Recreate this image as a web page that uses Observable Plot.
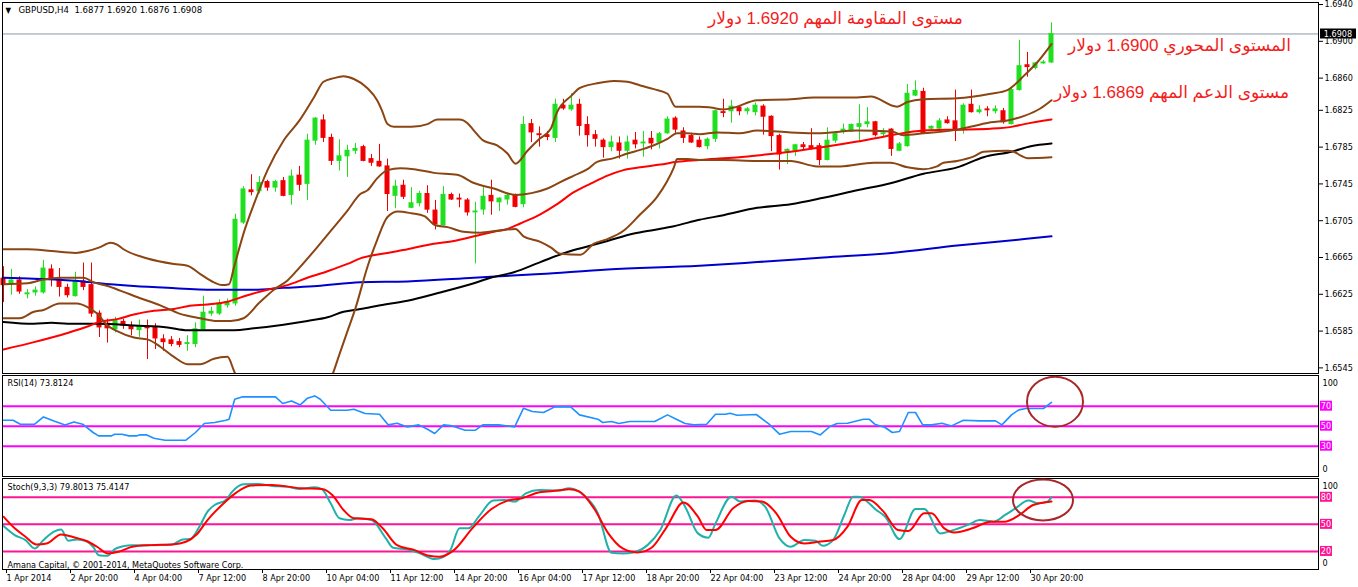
<!DOCTYPE html>
<html><head><meta charset="utf-8">
<script src="https://cdn.jsdelivr.net/npm/d3@7"></script>
<script src="https://cdn.jsdelivr.net/npm/@observablehq/plot@0.6"></script>
<style>
html,body{margin:0;padding:0;background:#fff;}
#wrap{position:relative;width:1358px;height:587px;overflow:hidden;background:#fff;}
</style></head><body><div id="wrap"></div>
<script>
// ---------- DATA ----------
const symbol = "GBPUSD,H4";
const lastOHLC = [1.6877, 1.6920, 1.6876, 1.6908];
const open = [1.6642,1.6636,1.6640,1.6625,1.6627,1.6627,1.6652,1.6641,1.6632,1.6623,1.6639,1.6635,1.6604,1.6593,1.6587,1.6595,1.6590,1.6586,1.6590,1.6589,1.6576,1.6575,1.6573,1.6571,1.6571,1.6587,1.6604,1.6604,1.6613,1.6615,1.6703,1.6738,1.6737,1.6747,1.6741,1.6748,1.6733,1.6754,1.6745,1.6792,1.6814,1.6795,1.6770,1.6775,1.6781,1.6785,1.6772,1.6769,1.6764,1.6732,1.6743,1.6719,1.6724,1.6734,1.6716,1.6700,1.6733,1.6729,1.6727,1.6714,1.6717,1.6732,1.6725,1.6728,1.6732,1.6723,1.6810,1.6799,1.6798,1.6795,1.6830,1.6826,1.6831,1.6809,1.6798,1.6792,1.6785,1.6789,1.6781,1.6792,1.6789,1.6794,1.6790,1.6800,1.6816,1.6802,1.6797,1.6792,1.6786,1.6794,1.6823,1.6824,1.6828,1.6824,1.6823,1.6829,1.6818,1.6797,1.6780,1.6781,1.6787,1.6786,1.6786,1.6771,1.6792,1.6802,1.6802,1.6807,1.6810,1.6812,1.6799,1.6804,1.6781,1.6786,1.6841,1.6845,1.6805,1.6805,1.6814,1.6813,1.6805,1.6831,1.6823,1.6826,1.6824,1.6824,1.6810,1.6847,1.6874,1.6871,1.6876,1.6877];
const high = [1.6655,1.6652,1.6644,1.6630,1.6633,1.6662,1.6657,1.6653,1.6636,1.6649,1.6659,1.6659,1.6607,1.6598,1.6600,1.6598,1.6595,1.6597,1.6597,1.6593,1.6581,1.6579,1.6577,1.6580,1.6594,1.6623,1.6611,1.6619,1.6620,1.6712,1.6742,1.6755,1.6753,1.6749,1.6749,1.6752,1.6760,1.6764,1.6799,1.6817,1.6820,1.6799,1.6793,1.6787,1.6789,1.6787,1.6777,1.6788,1.6772,1.6749,1.6749,1.6741,1.6737,1.6743,1.6727,1.6742,1.6735,1.6734,1.6729,1.6725,1.6741,1.6749,1.6730,1.6735,1.6734,1.6818,1.6815,1.6807,1.6802,1.6837,1.6837,1.6843,1.6837,1.6818,1.6803,1.6794,1.6797,1.6796,1.6797,1.6801,1.6802,1.6802,1.6801,1.6818,1.6818,1.6806,1.6800,1.6796,1.6795,1.6825,1.6837,1.6836,1.6830,1.6828,1.6833,1.6831,1.6819,1.6799,1.6783,1.6788,1.6790,1.6805,1.6789,1.6806,1.6802,1.6810,1.6810,1.6831,1.6828,1.6813,1.6805,1.6805,1.6790,1.6853,1.6857,1.6849,1.6808,1.6816,1.6818,1.6847,1.6832,1.6847,1.6830,1.6829,1.6830,1.6827,1.6849,1.6901,1.6888,1.6877,1.6879,1.6920];
const low = [1.6616,1.6624,1.6625,1.6620,1.6623,1.6625,1.6633,1.6622,1.6621,1.6622,1.6629,1.6600,1.6578,1.6572,1.6583,1.6587,1.6580,1.6578,1.6554,1.6565,1.6563,1.6568,1.6567,1.6563,1.6567,1.6586,1.6601,1.6602,1.6610,1.6612,1.6701,1.6732,1.6734,1.6737,1.6736,1.6731,1.6722,1.6737,1.6727,1.6787,1.6790,1.6765,1.6759,1.6752,1.6777,1.6769,1.6764,1.6763,1.6715,1.6718,1.6728,1.6718,1.6720,1.6713,1.6695,1.6699,1.6727,1.6719,1.6710,1.6658,1.6711,1.6711,1.6715,1.6722,1.6719,1.6719,1.6790,1.6785,1.6792,1.6790,1.6825,1.6824,1.6797,1.6785,1.6785,1.6773,1.6780,1.6772,1.6772,1.6783,1.6774,1.6782,1.6783,1.6799,1.6800,1.6789,1.6789,1.6784,1.6782,1.6790,1.6817,1.6811,1.6819,1.6820,1.6819,1.6798,1.6780,1.6760,1.6766,1.6775,1.6782,1.6782,1.6765,1.6770,1.6789,1.6799,1.6801,1.6791,1.6806,1.6796,1.6796,1.6775,1.6780,1.6785,1.6840,1.6799,1.6802,1.6803,1.6810,1.6791,1.6799,1.6822,1.6821,1.6818,1.6821,1.6810,1.6809,1.6846,1.6861,1.6869,1.6875,1.6876];
const close = [1.6635,1.6640,1.6628,1.6626,1.6629,1.6653,1.6642,1.6633,1.6624,1.6639,1.6633,1.6604,1.6589,1.6588,1.6596,1.6591,1.6587,1.6590,1.6588,1.6577,1.6573,1.6571,1.6570,1.6572,1.6587,1.6605,1.6606,1.6615,1.6616,1.6706,1.6739,1.6736,1.6746,1.6741,1.6747,1.6732,1.6753,1.6744,1.6792,1.6816,1.6795,1.6770,1.6775,1.6781,1.6783,1.6770,1.6768,1.6764,1.6734,1.6742,1.6731,1.6724,1.6734,1.6717,1.6701,1.6733,1.6728,1.6728,1.6714,1.6715,1.6731,1.6726,1.6729,1.6732,1.6720,1.6809,1.6801,1.6798,1.6796,1.6831,1.6827,1.6830,1.6808,1.6798,1.6794,1.6785,1.6790,1.6781,1.6790,1.6788,1.6790,1.6789,1.6799,1.6815,1.6804,1.6795,1.6790,1.6785,1.6793,1.6824,1.6822,1.6829,1.6824,1.6826,1.6830,1.6818,1.6797,1.6777,1.6782,1.6787,1.6785,1.6784,1.6771,1.6792,1.6799,1.6804,1.6809,1.6810,1.6812,1.6798,1.6800,1.6783,1.6788,1.6843,1.6846,1.6800,1.6807,1.6813,1.6811,1.6803,1.6830,1.6823,1.6825,1.6825,1.6826,1.6812,1.6847,1.6873,1.6872,1.6876,1.6877,1.6908];

const priceTicks = [1.6940,1.6900,1.6860,1.6825,1.6785,1.6745,1.6705,1.6665,1.6625,1.6585,1.6545];
const timeLabels = ["1 Apr 2014","2 Apr 20:00","4 Apr 04:00","7 Apr 12:00","8 Apr 20:00","10 Apr 04:00","11 Apr 12:00","14 Apr 20:00","16 Apr 04:00","17 Apr 12:00","18 Apr 20:00","22 Apr 04:00","23 Apr 12:00","24 Apr 20:00","28 Apr 04:00","29 Apr 12:00","30 Apr 20:00"];

// indicator lines: [bar index, value]
const bbUpper = [[0,1.6674],[3,1.6674],[6,1.6672],[9,1.6670],[10.5,1.6672],[12,1.6676],[13.4,1.6681],[14.2,1.6679],[15,1.6674],[18,1.6664],[21.3,1.6658],[23,1.6656],[24.6,1.6647],[26.3,1.6638],[27.3,1.6635],[28.2,1.6636],[28.8,1.6654],[30,1.6691],[31.3,1.6723],[33,1.6760],[35,1.6792],[37,1.6814],[38.8,1.6839],[40,1.6856],[41.3,1.6860],[42.5,1.6862],[43.8,1.6859],[45.5,1.6849],[46.7,1.6836],[47.3,1.6825],[48,1.6810],[48.8,1.6807],[51,1.6807],[53,1.6810],[54.2,1.6815],[57,1.6815],[58,1.6811],[58.8,1.6803],[60,1.6792],[61.7,1.6787],[63,1.6778],[64,1.6767],[65.5,1.6781],[67,1.6794],[68.4,1.6805],[69.2,1.6823],[71,1.6841],[72,1.6849],[74,1.6854],[76.3,1.6857],[78,1.6856],[79.6,1.6852],[81.3,1.6848],[83,1.6843],[84,1.6829],[87,1.6829],[88.4,1.6828],[90,1.6826],[91.3,1.6828],[94.2,1.6836],[98.4,1.6837],[101.3,1.6839],[106.7,1.6839],[108.4,1.6840],[111.7,1.6829],[113,1.6834],[115,1.6837],[119.2,1.6838],[123.4,1.6843],[125.5,1.6847],[126.3,1.6852],[127.6,1.6863],[129.2,1.6877],[131,1.6897]];
const bbMiddle = [[0,1.6636],[3,1.6637],[5,1.6641],[7,1.6643],[10,1.6643],[11.3,1.6638],[13,1.6634],[14.6,1.6629],[17,1.6621],[19.6,1.6613],[22,1.6604],[24.6,1.6599],[26.7,1.6596],[28.4,1.6596],[30,1.6599],[32,1.6616],[33.8,1.6630],[35.5,1.6640],[37,1.6654],[39.2,1.6676],[41.3,1.6698],[43,1.6716],[44.6,1.6734],[45.5,1.6738],[46.7,1.6751],[48,1.6760],[49.6,1.6762],[51.3,1.6761],[53.8,1.6757],[56.7,1.6755],[58.8,1.6746],[61.3,1.6740],[64,1.6733],[66,1.6735],[68,1.6740],[69.6,1.6747],[71.3,1.6754],[73,1.6761],[74.2,1.6769],[76.3,1.6773],[78,1.6778],[79.6,1.6782],[81.3,1.6787],[83,1.6794],[84.2,1.6800],[85.5,1.6800],[87,1.6799],[89.2,1.6801],[92,1.6800],[94.2,1.6803],[98.4,1.6801],[101.7,1.6800],[106.7,1.6803],[111,1.6802],[112.5,1.6798],[115,1.6800],[119.2,1.6804],[121.3,1.6808],[123.4,1.6812],[125.5,1.6814],[127.6,1.6819],[129.6,1.6827],[131,1.6836]];
const bbLower = [[0,1.6599],[2,1.6599],[3.8,1.6606],[5,1.6608],[7,1.6615],[9.2,1.6615],[10.5,1.6611],[11.7,1.6604],[13,1.6591],[14.2,1.6585],[16.3,1.6578],[18,1.6576],[19.6,1.6568],[21.3,1.6557],[23,1.6549],[24.6,1.6549],[26.3,1.6555],[28,1.6557],[28.8,1.6542],[30,1.6517],[32,1.6502],[34,1.6491],[36,1.6488],[38,1.6499],[40,1.6519],[41,1.6535],[42,1.6560],[43,1.6585],[44,1.6610],[45.5,1.6655],[46.7,1.6684],[48,1.6709],[49.3,1.6715],[51,1.6713],[52.6,1.6710],[54,1.6700],[55.5,1.6698],[57.5,1.6693],[59.6,1.6692],[61.7,1.6694],[64,1.6696],[65,1.6688],[67.1,1.6682],[68.4,1.6676],[69.6,1.6669],[72.1,1.6668],[73.8,1.6680],[75.5,1.6685],[77.5,1.6694],[79.6,1.6712],[81.7,1.6731],[82.9,1.6747],[83.8,1.6763],[84.2,1.6772],[85.5,1.6772],[87,1.6771],[90,1.6771],[94.2,1.6770],[98.4,1.6770],[101.7,1.6764],[104.6,1.6764],[108.8,1.6768],[110.9,1.6768],[113,1.6763],[115,1.6761],[116.7,1.6764],[117.5,1.6768],[119.2,1.6770],[121.3,1.6775],[122.5,1.6780],[125.5,1.6781],[126.3,1.6780],[127.1,1.6776],[128,1.6773],[131,1.6774]];
const maRed = [[0,1.6565],[3.8,1.6573],[8,1.6583],[10.5,1.6590],[12,1.6595],[14.2,1.6598],[16.3,1.6603],[18.8,1.6607],[21.3,1.6609],[23,1.6612],[25.5,1.6614],[28,1.6617],[30.5,1.6624],[33,1.6630],[35.5,1.6635],[38,1.6643],[40.5,1.6650],[43,1.6658],[44.6,1.6664],[48,1.6670],[50.5,1.6674],[53.8,1.6680],[56.3,1.6683],[58.8,1.6688],[61.3,1.6693],[63,1.6696],[64.6,1.6702],[67.1,1.6712],[69.2,1.6723],[71.3,1.6736],[73.8,1.6747],[75.5,1.6754],[77.5,1.6760],[79.6,1.6763],[82.1,1.6766],[84.2,1.6769],[87,1.6771],[88.4,1.6772],[92,1.6774],[94.2,1.6776],[98.4,1.6780],[102.5,1.6785],[106.7,1.6791],[111,1.6798],[115,1.6803],[119.2,1.6804],[123.4,1.6805],[126,1.6807],[127.6,1.6810],[131,1.6815]];
const maBlack = [[0,1.6595],[3.8,1.6593],[6,1.6594],[8,1.6593],[12,1.6593],[16.3,1.6591],[20.5,1.6589],[23,1.6586],[28.8,1.6586],[31.3,1.6588],[35,1.6592],[38,1.6596],[40.5,1.6600],[42.5,1.6606],[44.6,1.6609],[47.1,1.6613],[50.5,1.6618],[54.6,1.6627],[58.8,1.6637],[60.9,1.6643],[63.8,1.6649],[67.1,1.6660],[70.5,1.6671],[73,1.6677],[75.5,1.6683],[78.8,1.6691],[81.3,1.6695],[83.8,1.6699],[87,1.6706],[90,1.6711],[94.2,1.6719],[98.4,1.6723],[102.5,1.6730],[106.7,1.6738],[111,1.6746],[115,1.6756],[119.2,1.6763],[122.5,1.6774],[126,1.6780],[128.4,1.6786],[131,1.6789]];
const maBlue = [[0,1.6643],[3.8,1.6642],[10,1.6639],[12,1.6637],[16.3,1.6634],[20.5,1.6632],[26.3,1.6630],[31.3,1.6630],[35,1.6632],[39.2,1.6634],[44.6,1.6638],[50.5,1.6639],[58.8,1.6643],[67.1,1.6647],[75.5,1.6652],[87,1.6656],[94.2,1.6660],[102.5,1.6665],[111,1.6670],[119.2,1.6678],[127.6,1.6685],[131,1.6688]];

const rsi = [[0,56],[1.2,56],[2.1,52],[3.9,52],[5,59.3],[6.3,55.3],[7.7,51.3],[8.8,54.3],[9.9,52],[11.2,43.7],[11.9,40.3],[13.5,40.3],[13.9,42],[14.8,42],[15.7,40.3],[16.6,40.3],[17,41.3],[17.9,41.3],[18.8,38],[20.2,36],[22.8,36],[24,43.7],[25.1,52.7],[26.4,53.7],[27.8,56],[28.2,57],[28.9,77],[29.8,79.3],[34,79.3],[34.9,72.7],[36,75.3],[37.1,71.3],[38,78],[38.9,80.3],[39.6,77],[40.9,66],[42.9,66],[43.8,67],[45.2,62.7],[47,62],[48.1,51.3],[49.2,53],[50.5,49.3],[51.9,51.3],[53,47],[53.9,42.7],[55,51.3],[56.1,50.3],[57.7,46],[59,46],[59.9,51.3],[61.9,51.3],[63.9,49.3],[65,68],[66.1,64.7],[67.5,63.7],[68.9,69.3],[70.9,69.3],[72,61.3],[74.3,57],[74.9,53.7],[76,54.7],[76.9,52.7],[78.3,54.7],[81.4,54.7],[83,61.3],[84.1,57],[85.2,52.7],[86.3,51.3],[87.9,52],[89,62],[90.3,62],[90.8,63],[91.7,61],[94.1,61.7],[95.7,52],[97,42],[98.4,44.7],[101,44.7],[102.1,41.3],[103.3,49.7],[104.2,52.7],[105.5,53],[107.5,57],[108.2,57],[108.9,52],[110.2,48.7],[111.1,43.7],[112,44.7],[113.1,63.7],[114,63.7],[114.9,51.3],[116,51.3],[117.3,53],[118.5,50.3],[120,56],[122,55.3],[124,55.3],[124.8,51.3],[126,61.3],[126.9,66.3],[127.8,67.7],[130,67.7],[131,73.8]];
const rsiLevels = [70, 50, 30];

const stochMain = [[0,48.1],[1.4,38.1],[2.75,32.6],[3.9,23.3],[5,32.6],[6.3,41.9],[7.2,44.4],[8.1,31.9],[9.2,33.3],[10.3,31.5],[11.2,25.2],[11.9,15.9],[13,15.2],[13.9,22.6],[15,25.9],[16.1,27],[18.4,27],[21.1,27.8],[22.4,33.3],[23.3,33.7],[24.6,49.3],[25.5,64.1],[26.4,71.5],[27.8,77],[28.6,86.3],[30,94.4],[31.8,94.8],[33.6,92.6],[35.3,91.9],[37.1,89.3],[38.9,91.1],[39.8,88.9],[40.9,73.3],[42,56.7],[43.2,54.8],[44.3,56.7],[46,54.8],[47.8,34.4],[48.7,24.1],[50.5,22.2],[51.9,18.5],[53.9,11.5],[55,14.1],[55.9,22.2],[57,45.6],[58.1,45.6],[59.4,58.5],[61.2,76.3],[62.6,77],[63.9,75.2],[65.3,84.4],[67,88.1],[69.3,87.4],[70.7,90],[72.5,82.6],[74.3,62.2],[76,18.5],[77.4,17.8],[78.7,18.9],[80.5,27],[82.1,43.7],[84.1,81.9],[85.2,69.6],[86.8,40],[88.1,35.2],[89,51.1],[91,80.7],[92.1,75.2],[93.9,76.3],[95.2,69.6],[97,34.4],[98.4,25.2],[100.1,32.6],[101.5,31.9],[102.4,26.3],[103.7,32.6],[105.1,60.4],[106.2,80.7],[106.9,80.7],[109.1,65.9],[110.2,58.5],[112,33.7],[114,67],[115.1,67],[117.1,40],[118.5,43],[120.7,50],[122,54.8],[123.8,53],[125.2,60.4],[126.5,67.8],[128.1,76.3],[129.4,73.3],[130.5,75.2],[131,79.8]];
const stochSignal = [[0,58.5],[1.4,45.6],[2.75,36.3],[4.1,27.8],[5.4,28.9],[7.2,38.9],[9,35.2],[10.3,31.9],[11.7,25.2],[13,17.8],[14.4,19.6],[16.1,25.2],[18.4,27],[21.1,27.8],[22.8,30.7],[24.2,39.3],[25.5,54.8],[27.3,71.5],[29.1,85.2],[30.9,93],[33.6,93.7],[37.1,90],[39.8,89.3],[41.1,82.6],[42.5,65.9],[43.8,56.7],[46,55.6],[47.4,45.6],[49.2,27],[51.4,21.5],[53.2,15.2],[54.5,14.1],[56.3,21.5],[58.6,45.6],[61,67],[63,76.3],[64.8,78.9],[67,85.6],[69.3,87.4],[70.7,88.9],[72,86.3],[73.8,67.8],[75.6,40],[77.4,23.3],[79.2,18.9],[81,24.1],[82.8,45.6],[85,74.1],[86.8,58.5],[87.9,43.7],[89,43.7],[91.2,67.8],[93.1,75.9],[94.8,75.2],[96.6,62.2],[98.4,36.3],[100.1,28.9],[101.9,30.7],[103.7,32.6],[105.5,47.4],[107.3,77],[108.2,77],[110,64.1],[111.8,43.7],[113.1,42.6],[115.1,62.2],[116,62.2],[117.6,45.6],[118.9,41.1],[121.1,45.6],[123.4,53],[125.2,53],[127,60.4],[128.7,71.5],[131,75.4]];
const stochLevels = [80, 50, 20];

const rsiTitle = "RSI(14) 73.8124";
const stochTitle = "Stoch(9,3,3) 79.8013 75.4147";
const copyright = "Amana Capital, \u00a9 2001-2014, MetaQuotes Software Corp.";
const notes = ["مستوى المقاومة المهم 1.6920 دولار", "المستوى المحوري 1.6900 دولار", "مستوى الدعم المهم 1.6869 دولار"];

// ---------- RENDER ----------
const FONT = '"DejaVu Sans Condensed","Liberation Sans Narrow","DejaVu Sans",sans-serif';
const W = 1358, ML = 2, MR = 40;
const XS = {type: "linear", domain: [-0.125, 164.375]};
const UP = "#1fe01f", DN = "#f00000";
const BROWN = "#8b4513";
const P = arr => arr.map(([i, v]) => ({i, v}));
const candles = open.map((o, i) => ({i, o, h: high[i], l: low[i], c: close[i]}));
const ups = candles.filter(d => d.c >= d.o), dns = candles.filter(d => d.c < d.o);
const baseStyle = {fontFamily: FONT, fontSize: "9px", background: "transparent", overflow: "visible", color: "black"};
const wrap = document.getElementById("wrap");
function place(svg, top) { svg.style.position = "absolute"; svg.style.left = "0px"; svg.style.top = top + "px"; wrap.appendChild(svg); }
const priceLine = (arr, stroke) => Plot.line(P(arr), {x: "i", y: "v", stroke, strokeWidth: 2, curve: "monotone-x", clip: true});
const scaleLabels = (top, bottom, dyTop, dyBottom) => [
  Plot.text([top], {y: d => d, text: d => String(d), frameAnchor: "right", dx: 4, dy: dyTop, textAnchor: "start"}),
  Plot.text([bottom], {y: d => d, text: d => String(d), frameAnchor: "right", dx: 4, dy: dyBottom, textAnchor: "start"})
];

const main = Plot.plot({
  width: W, height: 375, marginLeft: ML, marginRight: MR, marginTop: 2, marginBottom: 2,
  x: {...XS, axis: null},
  y: {domain: [1.65389, 1.69422], axis: null},
  style: baseStyle,
  marks: [
    Plot.ruleY([lastOHLC[3]], {stroke: "#8a96a2", strokeWidth: 1}),
    Plot.ruleX(ups, {x: "i", y1: "l", y2: "h", stroke: UP}),
    Plot.ruleX(dns, {x: "i", y1: "l", y2: "h", stroke: DN}),
    Plot.rect(ups, {x1: d => d.i - 0.3125, x2: d => d.i + 0.3125, y1: "o", y2: "c", fill: UP, insetTop: -0.5, insetBottom: -0.5}),
    Plot.rect(dns, {x1: d => d.i - 0.3125, x2: d => d.i + 0.3125, y1: "o", y2: "c", fill: DN, insetTop: -0.5, insetBottom: -0.5}),
    priceLine(maBlue, "#0000cd"),
    priceLine(maBlack, "#000000"),
    priceLine(maRed, "#ff0000"),
    priceLine(bbUpper, BROWN),
    priceLine(bbMiddle, BROWN),
    priceLine(bbLower, BROWN),
    Plot.frame({stroke: "black"}),
    Plot.axisY({anchor: "right", ticks: priceTicks, tickFormat: d => d.toFixed(4), tickSize: 4, tickPadding: 2, fontSize: 9, label: null}),
    Plot.text(["\u25BC"], {frameAnchor: "top-left", dx: 3, dy: 5, lineAnchor: "top", textAnchor: "start", fontSize: 8}),
    Plot.text([symbol + "\u00a0\u00a0" + lastOHLC.map(d => d.toFixed(4)).join(" ")], {frameAnchor: "top-left", dx: 16, dy: 4, lineAnchor: "top", textAnchor: "start", fontSize: 9.5}),
    Plot.text(notes, {x: [104, 147, 146], y: [1.6925, 1.6895, 1.6844], text: d => "\u202B" + d + "\u202C", fill: "#f41c1c", fontSize: 17, fontFamily: '"Liberation Sans","DejaVu Sans",sans-serif', textAnchor: "middle"})
  ]
});
place(main, 0);
{
  const y = Math.round(main.scale("y").apply(lastOHLC[3]));
  const g = d3.select(main).append("g");
  g.append("rect").attr("x", 1320).attr("y", y - 4.5).attr("width", 36).attr("height", 10).attr("fill", "black");
  g.append("text").attr("x", 1338).attr("y", y + 0.5).attr("dy", "0.35em").attr("text-anchor", "middle").attr("fill", "white").attr("font-size", 9).text(lastOHLC[3].toFixed(4));
}

function levelBoxes(svg, levels, color) {
  const ys = svg.scale("y");
  const g = d3.select(svg).append("g");
  for (const v of levels) {
    const y = ys.apply(v);
    g.append("rect").attr("x", 1320).attr("y", y - 5).attr("width", 12).attr("height", 10).attr("fill", color);
    g.append("text").attr("x", 1326).attr("y", y).attr("dy", "0.35em").attr("text-anchor", "middle").attr("fill", "white").attr("font-size", 9).text(v);
  }
}
function ring(svg, cx, cy, rx, ry) {
  d3.select(svg).append("ellipse")
    .attr("cx", svg.scale("x").apply(cx)).attr("cy", svg.scale("y").apply(cy))
    .attr("rx", rx).attr("ry", ry).attr("fill", "none").attr("stroke", "#a8282a").attr("stroke-width", 2);
}

const rsiPlot = Plot.plot({
  width: W, height: 103, marginLeft: ML, marginRight: MR, marginTop: 1, marginBottom: 1,
  x: {...XS, axis: null},
  y: {domain: [-0.3, 100.7], axis: null},
  style: baseStyle,
  marks: [
    Plot.ruleY(rsiLevels, {stroke: "#ff00ff", strokeWidth: 2}),
    Plot.line(P(rsi), {x: "i", y: "v", stroke: "#1e90ff", strokeWidth: 1.6}),
    Plot.frame({stroke: "black"}),
    Plot.text([rsiTitle], {frameAnchor: "top-left", dx: 5, dy: 4, lineAnchor: "top", textAnchor: "start"}),
    ...scaleLabels(100, 0, 7, -7)
  ]
});
place(rsiPlot, 374);
levelBoxes(rsiPlot, rsiLevels, "#ff00ff");
ring(rsiPlot, 131.5, 74, 28, 25);

const stochPlot = Plot.plot({
  width: W, height: 110, marginLeft: ML, marginRight: MR, marginTop: 1, marginBottom: 18,
  x: XS,
  y: {domain: [0, 100.8], axis: null},
  style: baseStyle,
  marks: [
    Plot.ruleY(stochLevels, {stroke: "#ff1493", strokeWidth: 2}),
    Plot.line(P(stochMain), {x: "i", y: "v", stroke: "#20b2aa", strokeWidth: 2, curve: "monotone-x"}),
    Plot.line(P(stochSignal), {x: "i", y: "v", stroke: "#ff0000", strokeWidth: 2, curve: "monotone-x"}),
    Plot.frame({stroke: "black"}),
    Plot.text([stochTitle], {frameAnchor: "top-left", dx: 5, dy: 5, lineAnchor: "top", textAnchor: "start"}),
    Plot.text([copyright], {frameAnchor: "bottom-left", dx: 5, dy: -2, lineAnchor: "bottom", textAnchor: "start"}),
    ...scaleLabels(100, 0, 6.5, -6),
    Plot.axisX({ticks: d3.range(0, 129, 8), tickFormat: d => timeLabels[d / 8], tickSize: 4, tickPadding: 1, textAnchor: "start", dx: 3, fontSize: 9, label: null})
  ]
});
place(stochPlot, 477);
levelBoxes(stochPlot, stochLevels, "#ff1493");
ring(stochPlot, 130, 76.5, 30, 20.5);
</script></body></html>
